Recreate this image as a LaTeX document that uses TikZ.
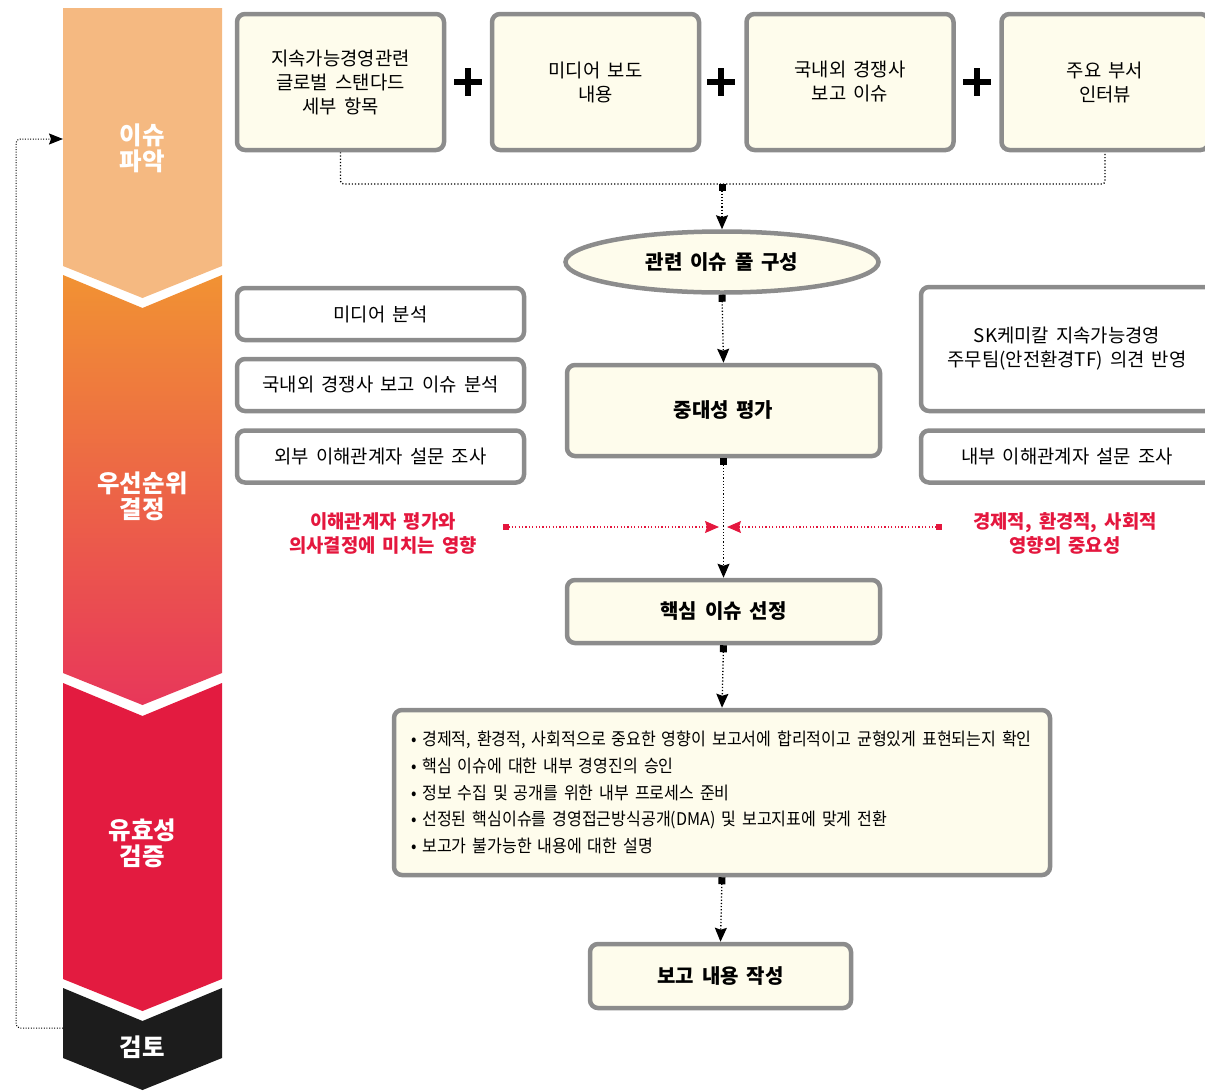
\documentclass[tikz,border=0pt]{standalone}
\usepackage{fontspec}
\setmainfont{Noto Sans CJK KR}[WordSpace=1.7]
\newfontfamily\krn{Noto Sans CJK KR}[FakeStretch=0.92]
\usetikzlibrary{arrows.meta,shapes.geometric}
\definecolor{boxgray}{HTML}{8C8C8C}
\definecolor{cream}{HTML}{FEFCEC}
\definecolor{cone}{HTML}{F5B981}
\definecolor{ctwotop}{HTML}{F19233}
\definecolor{ctwobot}{HTML}{E8375A}
\definecolor{cthree}{HTML}{E31B40}
\definecolor{cfour}{HTML}{1C1C1C}
\definecolor{redtxt}{HTML}{E4173E}
\begin{document}
\begin{tikzpicture}[x=1pt,y=-1pt,
  cbox/.style={draw=boxgray, line width=4.5pt, rounded corners=8pt, fill=cream, align=center,
    font=\fontsize{18.8}{24}\selectfont, inner sep=0pt},
  wbox/.style={cbox, fill=white},
  bbox/.style={cbox, font=\bfseries\fontsize{20}{24}\selectfont},
  chev/.style={text=white, align=center, font=\bfseries\fontsize{24.5}{26}\selectfont},
  redlbl/.style={text=redtxt, align=center, font=\bfseries\fontsize{18.8}{24}\selectfont},
  conn/.style={line width=1.3pt, dash pattern=on 1.2pt off 2pt},
  sqtip/.style={{Square[length=7pt,width=7pt]}-{Stealth[length=14pt,width=12pt,inset=2pt]}},
  plussign/.style={line width=6pt}
]
\useasboundingbox (0,0) rectangle (1205,1090);

% chevrons
\fill[cone] (63,8) -- (222,8) -- (222,266) -- (142.5,298) -- (63,266) -- cycle;
\shade[top color=ctwotop, bottom color=ctwobot] (63,275) -- (142.5,308) -- (222,275) -- (222,673) -- (142.5,705) -- (63,673) -- cycle;
\fill[cthree] (63,683) -- (142.5,716) -- (222,683) -- (222,979) -- (142.5,1011) -- (63,979) -- cycle;
\fill[cfour] (63,988) -- (142.5,1021) -- (222,988) -- (222,1058) -- (142.5,1090) -- (63,1058) -- cycle;

\node[chev] (s1) at (142.5,148) {이슈\\파악};
\node[chev] (s2) at (142.5,496) {우선순위\\결정};
\node[chev] (s3) at (142.5,843) {유효성\\검증};
\node[chev] (s4) at (142.5,1047) {검토};

\coordinate (lb) at (63,1028);
\coordinate (lt) at (63,139);
\draw[line width=1pt, dash pattern=on 1pt off 1.6pt, rounded corners=4pt, -{Stealth[length=14pt,width=11pt,inset=2pt]}]
  (lb) -- (16,1028) -- (16,139) -- (lt);

% top boxes
\node[cbox, minimum width=207, minimum height=136] (b1) at (340.5,82) {지속가능경영관련\\글로벌 스탠다드\\세부 항목};
\node[cbox, minimum width=207, minimum height=136] (b2) at (595.5,82) {미디어 보도\\내용};
\node[cbox, minimum width=207, minimum height=136] (b3) at (850,82) {국내외 경쟁사\\보고 이슈};
\node[cbox, minimum width=207, minimum height=136] (b4) at (1105,82) {주요 부서\\인터뷰};

\foreach \px in {468,721,977} {
  \draw[plussign] (\px-14,82) -- (\px+14,82);
  \draw[plussign] (\px,68) -- (\px,96);
}

\coordinate (j) at (722,184);
\draw[conn, rounded corners=3pt] (b1.south) |- (j) -| (b4.south);

% ellipse
\node[ellipse, draw=boxgray, line width=4.5pt, fill=cream, minimum width=313, minimum height=61,
  font=\bfseries\fontsize{20}{24}\selectfont, inner sep=0pt] (pool) at (722,262) {관련 이슈 풀 구성};
\draw[conn, sqtip] (j) -- (pool.north);

% materiality
\node[bbox, minimum width=313, minimum height=91] (mat) at (723.5,410.5) {중대성 평가};
\draw[conn, sqtip] (pool.south) -- (mat.north);

% left boxes
\node[wbox, minimum width=287, minimum height=52] (lA) at (380.5,314) {미디어 분석};
\node[wbox, minimum width=287, minimum height=52] (lB) at (380.5,385) {국내외 경쟁사 보고 이슈 분석};
\node[wbox, minimum width=287, minimum height=52] (lC) at (380.5,456.5) {외부 이해관계자 설문 조사};
% right boxes
\node[wbox, minimum width=292, minimum height=124] (rA) at (1067,349) {SK케미칼 지속가능경영\\주무팀(안전환경TF) 의견 반영};
\node[wbox, minimum width=292, minimum height=52] (rB) at (1067,456.5) {내부 이해관계자 설문 조사};

% core issue
\node[bbox, minimum width=313, minimum height=63] (core) at (723.5,611.5) {핵심 이슈 선정};
\draw[conn, sqtip] (mat.south) -- (core.north);

% red inputs
\node[redlbl] (l1) at (383,533) {이해관계자 평가와\\의사결정에 미치는 영향};
\node[redlbl] (l2) at (1065,533) {경제적, 환경적, 사회적\\영향의 중요성};
\coordinate (rl) at (503,527);
\coordinate (rr) at (942,527);
\coordinate (ml) at (719,527);
\coordinate (mr) at (727,527);
\draw[redtxt, line width=1.1pt, dash pattern=on 1.2pt off 2.2pt,
  {Square[length=6pt,width=6pt]}-{Stealth[length=14pt,width=12pt,inset=2pt]}] (rl) -- (ml);
\draw[redtxt, line width=1.1pt, dash pattern=on 1.2pt off 2.2pt,
  {Square[length=6pt,width=6pt]}-{Stealth[length=14pt,width=12pt,inset=2pt]}] (rr) -- (mr);

% validation list
\node[cbox, minimum width=656, minimum height=165, text width=622, inner xsep=0pt, align=left,
  font=\krn\fontsize{17.5}{26.75}\selectfont] (val) at (722,792.5)
  {• 경제적, 환경적, 사회적으로 중요한 영향이 보고서에 합리적이고 균형있게 표현되는지 확인\\
   • 핵심 이슈에 대한 내부 경영진의 승인\\
   • 정보 수집 및 공개를 위한 내부 프로세스 준비\\
   • 선정된 핵심이슈를 경영접근방식공개(DMA) 및 보고지표에 맞게 전환\\
   • 보고가 불가능한 내용에 대한 설명};
\draw[conn, sqtip] (core.south) -- (val.north);

% report
\node[bbox, minimum width=261, minimum height=64] (rep) at (720.5,976) {보고 내용 작성};
\draw[conn, sqtip] (val.south) -- (rep.north);
\end{tikzpicture}
\end{document}
